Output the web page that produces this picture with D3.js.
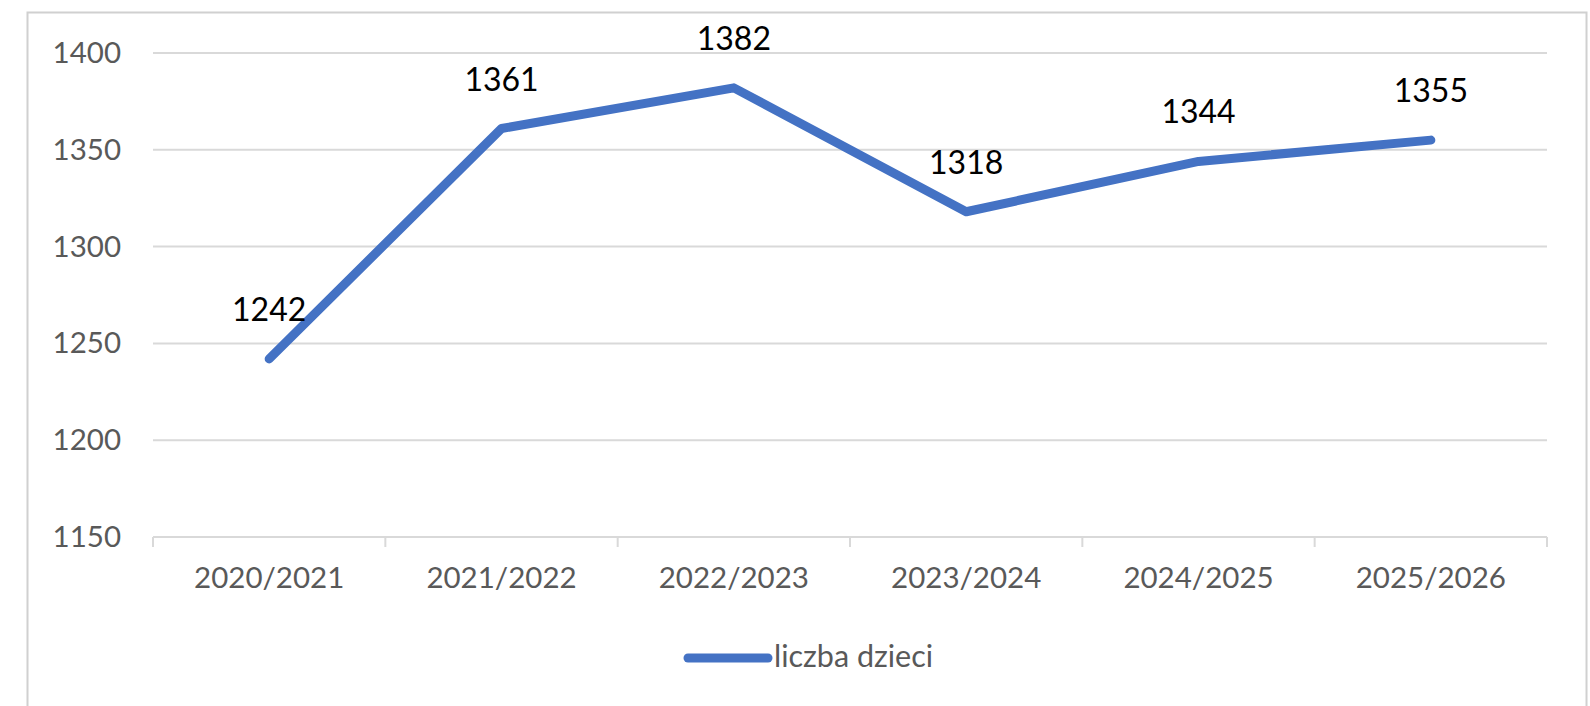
<!DOCTYPE html>
<html>
<head>
<meta charset="utf-8">
<script src="https://cdn.jsdelivr.net/npm/d3@7"></script>
<style>
  html, body { margin: 0; padding: 0; background: #fff; }
  svg { display: block; }
</style>
</head>
<body>
<svg id="chart" width="1590" height="706"></svg>
<script>
const categories = ["2020/2021", "2021/2022", "2022/2023", "2023/2024", "2024/2025", "2025/2026"];
const values = [1242, 1361, 1382, 1318, 1344, 1355];
const yTicks = [1150, 1200, 1250, 1300, 1350, 1400];
const seriesName = "liczba dzieci";

const W = 1590, H = 706;
const margin = { left: 153, right: 43, top: 53, bottom: 169 };
const svg = d3.select("#chart");
const font = "Lato, 'Open Sans', sans-serif";

// outer frame
svg.append("rect")
  .attr("x", 27.5).attr("y", 12.5)
  .attr("width", 1559).attr("height", 720)
  .attr("fill", "#fff").attr("stroke", "#d0d0d0").attr("stroke-width", 2);

const x = d3.scaleBand().domain(categories).range([margin.left, W - margin.right]).padding(0);
const y = d3.scaleLinear().domain([1150, 1400]).range([H - margin.bottom, margin.top]);

// gridlines
svg.append("g").selectAll("line").data(yTicks.filter(t => t !== 1150)).join("line")
  .attr("x1", margin.left).attr("x2", W - margin.right)
  .attr("y1", d => y(d)).attr("y2", d => y(d))
  .attr("stroke", "#d9d9d9").attr("stroke-width", 2);

// y axis labels
const yAxis = d3.axisLeft(y).tickValues(yTicks).tickSize(0).tickPadding(32).tickFormat(d3.format("d"));
const gy = svg.append("g").attr("transform", `translate(${margin.left},0)`).call(yAxis);
gy.select(".domain").remove();
gy.selectAll("text").attr("font-family", font).attr("font-size", 29.5).attr("fill", "#595959");

// x axis
const xAxis = d3.axisBottom(x).tickSize(0).tickPadding(30);
const gx = svg.append("g").attr("transform", `translate(0,${y(1150)})`).call(xAxis);
gx.select(".domain").remove();
gx.selectAll("text").attr("font-family", font).attr("font-size", 29.5).attr("fill", "#595959");
svg.append("line")
  .attr("x1", margin.left).attr("x2", W - margin.right)
  .attr("y1", y(1150)).attr("y2", y(1150))
  .attr("stroke", "#d9d9d9").attr("stroke-width", 2);
const tickPos = categories.map(c => x(c)).concat([x(categories[categories.length - 1]) + x.bandwidth()]);
svg.append("g").selectAll("line").data(tickPos).join("line")
  .attr("x1", d => d).attr("x2", d => d)
  .attr("y1", y(1150)).attr("y2", y(1150) + 10)
  .attr("stroke", "#d9d9d9").attr("stroke-width", 2);

// line
const cx = c => x(c) + x.bandwidth() / 2;
const line = d3.line().x((d, i) => cx(categories[i])).y(d => y(d));
svg.append("path").datum(values)
  .attr("d", line)
  .attr("fill", "none").attr("stroke", "#4472C4").attr("stroke-width", 9)
  .attr("stroke-linecap", "round").attr("stroke-linejoin", "round");

// data labels
svg.append("g").selectAll("text").data(values).join("text")
  .attr("x", (d, i) => cx(categories[i]))
  .attr("y", d => y(d) - 38)
  .attr("text-anchor", "middle")
  .attr("font-family", font).attr("font-size", 32).attr("fill", "#000")
  .text(d => d);

// legend
const lg = svg.append("g");
lg.append("line").attr("x1", 688).attr("x2", 768).attr("y1", 658).attr("y2", 658)
  .attr("stroke", "#4472C4").attr("stroke-width", 9).attr("stroke-linecap", "round");
lg.append("text").attr("x", 774).attr("y", 667)
  .attr("font-family", font).attr("font-size", 30.5).attr("fill", "#595959")
  .text(seriesName);
</script>
</body>
</html>
